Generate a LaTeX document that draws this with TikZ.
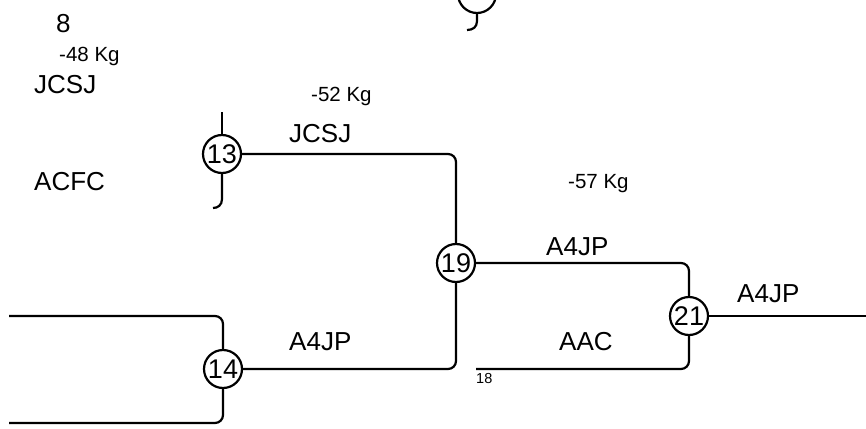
\documentclass[tikz,border=0pt]{standalone}
\usepackage{fontspec}
\setmainfont{Liberation Sans}
\begin{document}
\begin{tikzpicture}[x=1pt,y=-1pt,
  circ/.style={draw,circle,line width=2.2pt,minimum size=38pt,inner sep=0pt},
  wire/.style={line width=2.2pt,rounded corners=8pt},
  big/.style={font=\fontsize{26}{30}\selectfont,inner sep=0pt},
  num/.style={font=\fontsize{27}{30}\selectfont,inner sep=0pt},
  kg/.style={font=\fontsize{20.5}{24}\selectfont,inner sep=0pt},
  tiny/.style={font=\fontsize{14.5}{17}\selectfont,inner sep=0pt}]
\useasboundingbox (0,0) rectangle (866,428);
% circles
\node[circ] (n13) at (222,154) {};
\node[circ] (n19) at (456,263) {};
\node[circ] (n21) at (689,316) {};
\node[circ] (n14) at (223,369) {};
\node[circ] (ntop) at (477,-6) {};
% numbers in circles
\node[num,anchor=base] (t13) at (222,163.5) {13};
\node[num,anchor=base] (t19) at (456,272.5) {19};
\node[num,anchor=base] (t21) at (689,325.5) {21};
\node[num,anchor=base] (t14) at (223,378.5) {14};
% free ends
\coordinate (c13top) at (222,112);
\coordinate (c21out) at (866,316);
\coordinate (c21end) at (476,369);
\coordinate (c14a) at (9,316);
\coordinate (c14b) at (9,423);
% connectors
\draw[wire] (n13.east) -| (n19.north);
\draw[wire] (n19.east) -| (n21.north);
\draw[wire] (n21.east) -- (c21out);
\draw[wire] (n21.south) |- (c21end);
\draw[wire] (n19.south) |- (n14.east);
\draw[wire] (n14.north) |- (c14a);
\draw[wire] (n14.south) |- (c14b);
\draw[line width=2.2pt] (n13.north) -- (c13top);
\draw[line width=2.2pt] (n13.south) -- (222,199) .. controls (222,205) and (218,208) .. (213,208);
\draw[line width=2.2pt] (ntop.south) -- (477,21) .. controls (477,27) and (473,30) .. (467,30);
% labels
\node[big,anchor=base west] (l8) at (56,33) {8};
\node[kg,anchor=base west] (l48) at (59,62) {-48 Kg};
\node[big,anchor=base west] (lj1) at (34,93) {JCSJ};
\node[big,anchor=base west] (lacfc) at (34,190) {ACFC};
\node[kg,anchor=base west] (l52) at (311,101) {-52 Kg};
\node[big,anchor=base west] (lj2) at (289,142) {JCSJ};
\node[kg,anchor=base west] (l57) at (568,188) {-57 Kg};
\node[big,anchor=base west] (la1) at (546,255) {A4JP};
\node[big,anchor=base west] (la2) at (737,302) {A4JP};
\node[big,anchor=base west] (la3) at (289,350) {A4JP};
\node[big,anchor=base west] (laac) at (559,350) {AAC};
\node[tiny,anchor=base west] (l18) at (476,383) {18};
\end{tikzpicture}
\end{document}
